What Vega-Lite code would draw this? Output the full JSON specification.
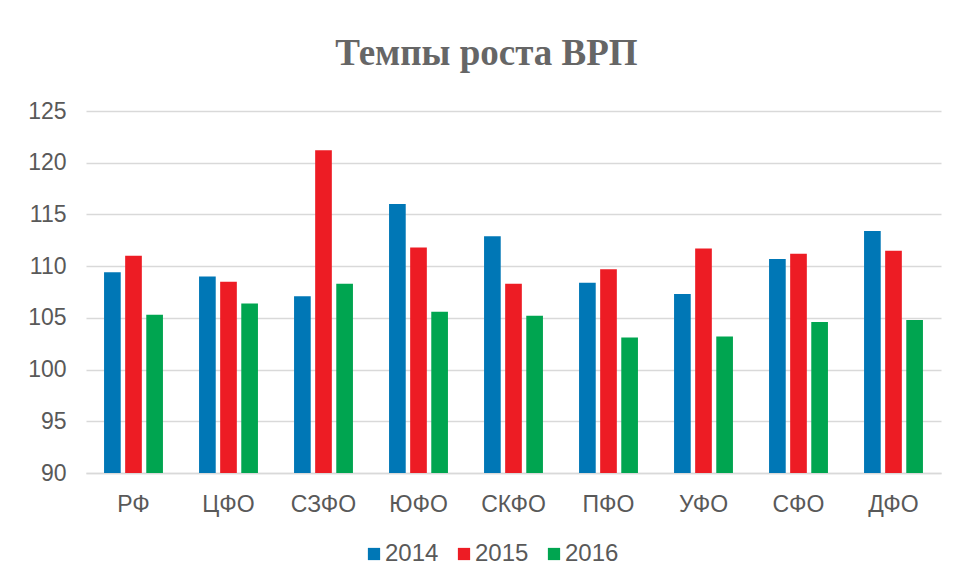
{
  "$schema": "https://vega.github.io/schema/vega-lite/v6.json",
  "width": 855,
  "height": 362,
  "autosize": {"type": "none"},
  "padding": {"left": 86, "top": 111, "right": 12, "bottom": 111},
  "background": "white",
  "title": {
    "text": "Темпы роста ВРП",
    "font": "Liberation Serif",
    "fontSize": 37,
    "fontWeight": "bold",
    "color": "#666666",
    "anchor": "middle",
    "baseline": "alphabetic",
    "offset": -2,
    "dx": -27
  },
  "data": {
    "values": [
      {"region": "РФ", "year": "2014", "value": 109.4},
      {"region": "РФ", "year": "2015", "value": 111.0},
      {"region": "РФ", "year": "2016", "value": 105.3},
      {"region": "ЦФО", "year": "2014", "value": 109.0},
      {"region": "ЦФО", "year": "2015", "value": 108.5},
      {"region": "ЦФО", "year": "2016", "value": 106.4},
      {"region": "СЗФО", "year": "2014", "value": 107.1},
      {"region": "СЗФО", "year": "2015", "value": 121.2},
      {"region": "СЗФО", "year": "2016", "value": 108.3},
      {"region": "ЮФО", "year": "2014", "value": 116.0},
      {"region": "ЮФО", "year": "2015", "value": 111.8},
      {"region": "ЮФО", "year": "2016", "value": 105.6},
      {"region": "СКФО", "year": "2014", "value": 112.9},
      {"region": "СКФО", "year": "2015", "value": 108.3},
      {"region": "СКФО", "year": "2016", "value": 105.2},
      {"region": "ПФО", "year": "2014", "value": 108.4},
      {"region": "ПФО", "year": "2015", "value": 109.7},
      {"region": "ПФО", "year": "2016", "value": 103.1},
      {"region": "УФО", "year": "2014", "value": 107.3},
      {"region": "УФО", "year": "2015", "value": 111.7},
      {"region": "УФО", "year": "2016", "value": 103.2},
      {"region": "СФО", "year": "2014", "value": 110.7},
      {"region": "СФО", "year": "2015", "value": 111.2},
      {"region": "СФО", "year": "2016", "value": 104.6},
      {"region": "ДФО", "year": "2014", "value": 113.4},
      {"region": "ДФО", "year": "2015", "value": 111.5},
      {"region": "ДФО", "year": "2016", "value": 104.8}
    ]
  },
  "mark": {"type": "bar", "clip": true},
  "encoding": {
    "x": {
      "field": "region",
      "type": "nominal",
      "sort": null,
      "scale": {"paddingInner": 0.38, "paddingOuter": 0.19},
      "axis": {
        "title": null,
        "labelAngle": 0,
        "labelFont": "Liberation Sans",
        "labelFontSize": 23,
        "labelColor": "#595959",
        "labelPadding": 20,
        "ticks": false,
        "domainColor": "#d9d9d9",
        "domainWidth": 1.3
      }
    },
    "xOffset": {
      "field": "year",
      "type": "nominal",
      "scale": {"paddingInner": 0.21, "paddingOuter": 0}
    },
    "y": {
      "field": "value",
      "type": "quantitative",
      "scale": {"domain": [90, 125], "zero": false, "nice": false},
      "axis": {
        "title": null,
        "values": [90, 95, 100, 105, 110, 115, 120, 125],
        "labelFont": "Liberation Sans",
        "labelFontSize": 23,
        "labelColor": "#595959",
        "labelPadding": 20,
        "ticks": false,
        "domain": false,
        "gridColor": "#d9d9d9",
        "gridWidth": 1.3
      }
    },
    "color": {
      "field": "year",
      "type": "nominal",
      "scale": {"domain": ["2014", "2015", "2016"], "range": ["#0077b6", "#ed1c24", "#00a550"]},
      "legend": {
        "title": null,
        "orient": "none",
        "direction": "horizontal",
        "legendX": 276,
        "legendY": 431,
        "padding": 0,
        "symbolType": "square",
        "symbolSize": 150,
        "symbolStrokeWidth": 0,
        "labelFont": "Liberation Sans",
        "labelFontSize": 24,
        "labelColor": "#595959",
        "labelOffset": -1,
        "columnPadding": 13
      }
    }
  },
  "config": {"view": {"stroke": null}}
}
